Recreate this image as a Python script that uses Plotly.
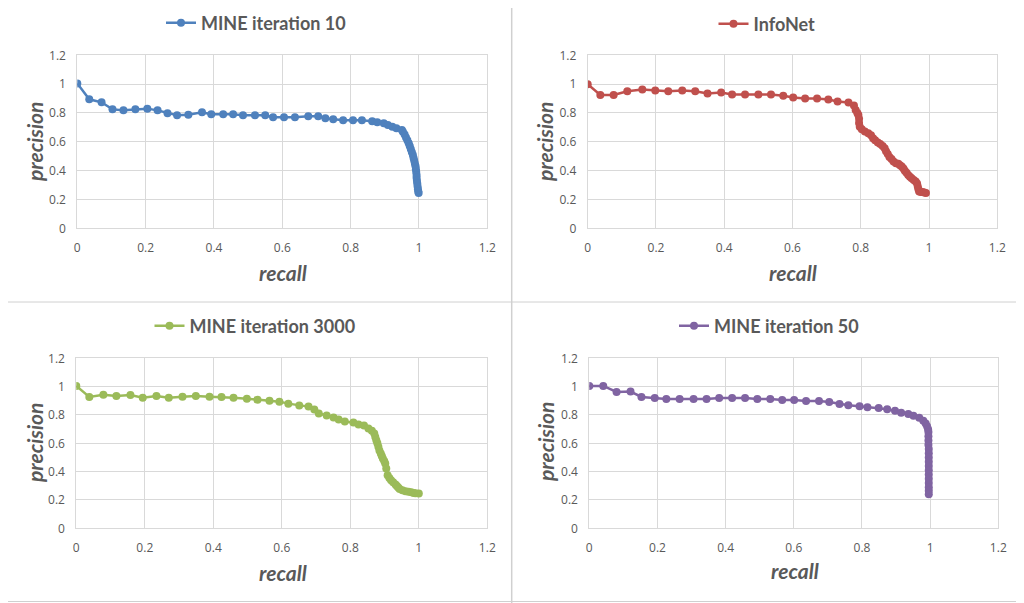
import plotly.graph_objects as go

# MINE iteration 10 (top left)
recall_mine10 = [0, 0.035, 0.071, 0.103, 0.135, 0.17, 0.205, 0.235, 0.264, 0.292,
                 0.325, 0.365, 0.392, 0.427, 0.456, 0.485, 0.52, 0.55, 0.573, 0.605,
                 0.637, 0.676, 0.705, 0.726, 0.749, 0.778, 0.807, 0.833, 0.863, 0.878,
                 0.897, 0.909, 0.922, 0.934, 0.95, 0.953, 0.958, 0.962, 0.966, 0.97,
                 0.973, 0.976, 0.979, 0.982, 0.984, 0.986, 0.988, 0.99, 0.991, 0.992,
                 0.993, 0.993, 0.994, 0.995, 0.996, 0.997, 0.998, 0.999]
precision_mine10 = [1.005, 0.895, 0.874, 0.825, 0.818, 0.825, 0.83, 0.818, 0.798, 0.784,
                    0.788, 0.805, 0.791, 0.791, 0.791, 0.784, 0.784, 0.784, 0.77, 0.77,
                    0.77, 0.777, 0.777, 0.763, 0.756, 0.749, 0.749, 0.749, 0.742, 0.735,
                    0.728, 0.717, 0.705, 0.694, 0.682, 0.67, 0.65, 0.63, 0.61, 0.59,
                    0.57, 0.55, 0.53, 0.51, 0.49, 0.47, 0.45, 0.43, 0.41, 0.39,
                    0.37, 0.35, 0.33, 0.31, 0.29, 0.27, 0.255, 0.245]

# InfoNet (top right)
recall_infonet = [0, 0.037, 0.076, 0.116, 0.16, 0.198, 0.236, 0.277, 0.315, 0.351,
                  0.391, 0.423, 0.461, 0.5, 0.537, 0.573, 0.602, 0.637, 0.672, 0.705,
                  0.732, 0.764, 0.78, 0.785, 0.79, 0.793, 0.795, 0.795, 0.797, 0.803,
                  0.812, 0.822, 0.83, 0.836, 0.842, 0.85, 0.857, 0.864, 0.87, 0.874,
                  0.879, 0.884, 0.89, 0.896, 0.903, 0.91, 0.915, 0.92, 0.925, 0.929,
                  0.934, 0.939, 0.944, 0.949, 0.955, 0.961, 0.965, 0.967, 0.969, 0.971,
                  0.976, 0.981, 0.986, 0.991]
precision_infonet = [1.0, 0.925, 0.925, 0.95, 0.963, 0.956, 0.95, 0.956, 0.95, 0.935,
                     0.942, 0.928, 0.928, 0.928, 0.928, 0.92, 0.908, 0.9, 0.9, 0.894,
                     0.88, 0.873, 0.852, 0.82, 0.8, 0.786, 0.76, 0.73, 0.705, 0.687,
                     0.672, 0.66, 0.645, 0.625, 0.61, 0.595, 0.585, 0.57, 0.555, 0.535,
                     0.515, 0.495, 0.48, 0.463, 0.452, 0.447, 0.437, 0.429, 0.415, 0.4,
                     0.385, 0.37, 0.358, 0.347, 0.335, 0.325, 0.31, 0.29, 0.27, 0.256,
                     0.251, 0.252, 0.248, 0.244]

# MINE iteration 3000 (bottom left)
recall_mine3000 = [0, 0.038, 0.079, 0.117, 0.158, 0.194, 0.234, 0.27, 0.31, 0.349,
                   0.389, 0.424, 0.459, 0.498, 0.529, 0.564, 0.593, 0.619, 0.651, 0.678,
                   0.695, 0.708, 0.731, 0.751, 0.766, 0.784, 0.809, 0.824, 0.84, 0.853,
                   0.863, 0.87, 0.873, 0.876, 0.879, 0.882, 0.885, 0.889, 0.892, 0.895,
                   0.899, 0.902, 0.905, 0.909, 0.914, 0.919, 0.925, 0.932, 0.936, 0.94,
                   0.944, 0.952, 0.961, 0.97, 0.978, 0.985, 0.99, 1.0]
precision_mine3000 = [1.005, 0.927, 0.943, 0.934, 0.941, 0.922, 0.934, 0.922, 0.929, 0.934,
                      0.929, 0.927, 0.922, 0.915, 0.908, 0.901, 0.894, 0.88, 0.866, 0.859,
                      0.838, 0.81, 0.796, 0.782, 0.768, 0.754, 0.746, 0.732, 0.725, 0.704,
                      0.688, 0.669, 0.645, 0.622, 0.6, 0.575, 0.55, 0.528, 0.51, 0.493,
                      0.475, 0.457, 0.422, 0.375, 0.355, 0.34, 0.325, 0.31, 0.298, 0.288,
                      0.278, 0.268, 0.262, 0.258, 0.254, 0.25, 0.247, 0.246]

# MINE iteration 50 (bottom right)
recall_mine50 = [0, 0.041, 0.08, 0.121, 0.153, 0.192, 0.226, 0.265, 0.306, 0.344,
                 0.381, 0.419, 0.457, 0.493, 0.531, 0.566, 0.601, 0.636, 0.674, 0.704,
                 0.734, 0.76, 0.793, 0.816, 0.849, 0.874, 0.897, 0.915, 0.936, 0.951,
                 0.968, 0.98, 0.987, 0.991, 0.994, 0.995, 0.995, 0.995, 0.995, 0.996,
                 0.996, 0.996, 0.996, 0.996, 0.996, 0.996, 0.996, 0.996, 0.996, 0.996,
                 0.996]
precision_mine50 = [1.005, 1.005, 0.963, 0.965, 0.927, 0.92, 0.913, 0.913, 0.913, 0.913,
                    0.92, 0.92, 0.92, 0.913, 0.913, 0.906, 0.906, 0.899, 0.899, 0.892,
                    0.878, 0.869, 0.862, 0.855, 0.85, 0.841, 0.829, 0.815, 0.806, 0.794,
                    0.78, 0.76, 0.74, 0.72, 0.70, 0.68, 0.65, 0.62, 0.59, 0.56,
                    0.53, 0.50, 0.47, 0.44, 0.41, 0.38, 0.35, 0.32, 0.29, 0.265,
                    0.24]

panels = [
    ("MINE iteration 10", recall_mine10, precision_mine10, "#4F81BD"),
    ("InfoNet", recall_infonet, precision_infonet, "#C0504D"),
    ("MINE iteration 3000", recall_mine3000, precision_mine3000, "#9BBB59"),
    ("MINE iteration 50", recall_mine50, precision_mine50, "#8064A2"),
]

# the page body has an 8px margin, so the figure sits at (8, 8) in the window
OFF = 8
W, H = 1024 - OFF, 603 - OFF
TEXT = "#595959"
GRID = "#d9d9d9"

# plot-area boxes in window pixels (left, right, top, bottom)
boxes = [(77.3, 487.3, 55.3, 228.3), (587.7, 997.3, 55.3, 228.3),
         (76.3, 487.3, 358.3, 528.3), (589.3, 998.3, 358.3, 528.3)]
legend_px = [(256, 23), (767, 24), (255, 326), (769, 326)]
ylab_px = [(34, 142), (544, 142), (34, 443), (545, 442)]
xlab_px = [(283, 272), (793, 272), (283, 572), (795, 570)]

def px(x):
    return (x - OFF) / W

def py(y):
    return 1 - (y - OFF) / H

fig = go.Figure()
layout = dict(width=W, height=H,
              margin=dict(l=0, r=0, t=0, b=0, autoexpand=False),
              paper_bgcolor="white", plot_bgcolor="white",
              font=dict(family="Open Sans", color=TEXT, size=12))
annotations = []

for i, (name, xs, ys, color) in enumerate(panels):
    n = "" if i == 0 else str(i + 1)
    leg = "legend" + n
    fig.add_trace(go.Scatter(
        x=xs, y=ys, name=name, mode="lines+markers",
        line=dict(color=color, width=2.5),
        marker=dict(color=color, size=8),
        xaxis="x" + n, yaxis="y" + n, legend=leg,
    ))
    l, r, t, b = boxes[i]
    axis_common = dict(range=[0, 1.2], dtick=0.2, tick0=0, showgrid=True,
                       gridcolor=GRID, gridwidth=1, zeroline=False,
                       showline=True, linecolor=GRID, mirror=True,
                       ticks="outside", ticklen=8, tickcolor="rgba(0,0,0,0)",
                       tickfont=dict(family="Open Sans", size=12, color=TEXT),
                       automargin=False, fixedrange=True)
    layout["xaxis" + n] = dict(axis_common, domain=[px(l), px(r)],
                               anchor="y" + n)
    layout["yaxis" + n] = dict(axis_common, domain=[py(b), py(t)],
                               anchor="x" + n)
    lx, ly = legend_px[i]
    layout[leg] = dict(x=px(lx), y=py(ly), xanchor="center", yanchor="middle",
                       orientation="h", bgcolor="rgba(0,0,0,0)", itemwidth=30,
                       font=dict(family="Lato", size=18, color=TEXT, weight="bold"))
    ax, ay = ylab_px[i]
    annotations.append(dict(x=px(ax), y=py(ay), xref="paper", yref="paper",
                            text="<b><i>precision</i></b>", showarrow=False,
                            textangle=-90, xanchor="center", yanchor="middle",
                            font=dict(family="Lato", size=21, color=TEXT)))
    bx, by = xlab_px[i]
    annotations.append(dict(x=px(bx), y=py(by), xref="paper", yref="paper",
                            text="<b><i>recall</i></b>", showarrow=False,
                            xanchor="center", yanchor="middle",
                            font=dict(family="Lato", size=21, color=TEXT)))

# panel frames
frame = "#d0d0d0"
shapes = [
    dict(type="line", xref="paper", yref="paper", x0=px(511.7), x1=px(511.7), y0=0, y1=1,
         line=dict(color=frame, width=1.5)),
    dict(type="line", xref="paper", yref="paper", x0=px(1021.7), x1=px(1021.7), y0=0, y1=1,
         line=dict(color=frame, width=1)),
    dict(type="line", xref="paper", yref="paper", x0=0, x1=1, y0=py(302), y1=py(302),
         line=dict(color=frame, width=1)),
    dict(type="line", xref="paper", yref="paper", x0=0, x1=px(1021.7), y0=py(601.5), y1=py(601.5),
         line=dict(color=frame, width=1)),
]

layout["annotations"] = annotations
layout["shapes"] = shapes
layout["showlegend"] = True
fig.update_layout(**layout)

fig.write_html("out.html")
